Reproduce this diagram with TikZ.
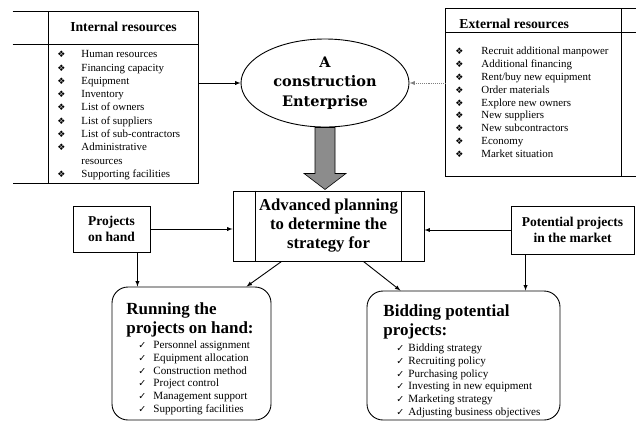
\documentclass[tikz,border=0pt]{standalone}
\usepackage{fontspec}
\setmainfont{Liberation Serif}
\newfontfamily\symfont{DejaVu Sans}
\newfontfamily\entfont{DejaVu Serif}
\usetikzlibrary{arrows,shapes.geometric,positioning}

\newcommand{\dia}{{\symfont\fontsize{9}{9}\selectfont ❖}}
\newcommand{\tick}{{\symfont\fontsize{9.5}{9.5}\selectfont ✓}}

\tikzset{
  hdr/.style={font=\bfseries\fontsize{13.7}{16}\selectfont, inner sep=0pt},
  listtxt/.style={font=\fontsize{10.9}{12.9}\selectfont, inner sep=0pt, anchor=north west},
  chktxt/.style={font=\fontsize{11.1}{12.8}\selectfont, inner sep=0pt, anchor=north west},
  ttl/.style={font=\bfseries\fontsize{17}{19.5}\selectfont, align=left, inner sep=0pt, anchor=north west},
  srcbox/.style={draw, align=center, inner sep=0pt, font=\bfseries\fontsize{13.5}{16}\selectfont},
  taskbox/.style={draw, rounded corners=16pt, inner sep=0pt},
}

\begin{document}
\begin{tikzpicture}[x=1pt,y=-1pt,line width=0.9pt]
	\useasboundingbox (0,0) rectangle (636,424);
	% internal resources
	\node[minimum width=185pt, minimum height=171pt, inner sep=0pt] (intres) at (105.5,97.5) {};
	\draw (intres.north west) -- (intres.north east) -- (intres.south east) -- (intres.south west);
	\draw ([xshift=36pt]intres.north west) -- ([xshift=36pt]intres.south west);
	\draw ([yshift=-33pt]intres.north west) -- ([yshift=-33pt]intres.north east);
	\node[hdr] (intttl) at (123.5,27) {Internal resources};
	\node[listtxt, font=\fontsize{10.9}{13.3}\selectfont] (intlist) at (57,48) {\begin{tabular}{@{}p{24pt}@{}l@{}}
		\dia & Human resources\\
		\dia & Financing capacity\\
		\dia & Equipment\\
		\dia & Inventory\\
		\dia & List of owners\\
		\dia & List of suppliers\\
		\dia & List of sub-contractors\\
		\dia & Administrative\\
		     & resources\\
		\dia & Supporting facilities
	\end{tabular}};
	% external resources
	\node[minimum width=190pt, minimum height=167pt, inner sep=0pt] (extres) at (541,92.5) {};
	\draw (extres.north east) -- (extres.north west) -- (extres.south west) -- (extres.south east);
	\draw ([xshift=-15pt]extres.north east) -- ([xshift=-15pt]extres.south east);
	\draw ([yshift=-24pt]extres.north west) -- ([yshift=-24pt]extres.north east);
	\node[hdr, anchor=west] (extttl) at (459,24) {External resources};
	\node[listtxt] (extlist) at (455,45) {\begin{tabular}{@{}p{26pt}@{}l@{}}
		\dia & Recruit additional manpower\\
		\dia & Additional financing\\
		\dia & Rent/buy new equipment\\
		\dia & Order materials\\
		\dia & Explore new owners\\
		\dia & New suppliers\\
		\dia & New subcontractors\\
		\dia & Economy\\
		\dia & Market situation
	\end{tabular}};
	% enterprise
	\node[ellipse, draw, minimum width=168pt, minimum height=88pt, inner sep=0pt, align=center,
		font=\entfont\bfseries\fontsize{14.5}{19.5}\selectfont] (ent) at (325,83) {A\\construction\\Enterprise};
	\draw[-latex] (intres.east |- ent.west) -- (ent.west);
	\draw[-latex, densely dotted, gray] (extres.west |- ent.east) -- (ent.east);
	\filldraw[fill=gray!90, line width=0.6pt] ([xshift=-10pt]ent.south) -- ++(20,0) -- ++(0,46) -- ++(11,0)
		-- ++(-21,16) -- ++(-21,-16) -- ++(11,0) -- cycle;
	% planning
	\node[draw, minimum width=191pt, minimum height=70pt, inner sep=0pt, align=center,
		font=\bfseries\fontsize{16.7}{19}\selectfont] (plan) at (328.5,226) {Advanced planning\\to determine the\\strategy for};
	\draw ([xshift=23pt]plan.north west) -- ([xshift=23pt]plan.south west);
	\draw ([xshift=-23pt]plan.north east) -- ([xshift=-23pt]plan.south east);
	\node[srcbox, minimum width=77pt, minimum height=46pt] (onhand) at (111.5,229) {Projects\\on hand};
	\node[srcbox, minimum width=123pt, minimum height=48pt] (market) at (572.5,230) {Potential projects\\in the market};
	% running / bidding
	\node[taskbox, minimum width=159pt, minimum height=133pt] (running) at (191.5,353.5) {};
	\node[taskbox, minimum width=193pt, minimum height=129pt] (bidding) at (463.5,355.5) {};
	\node[ttl] (runttl) at (126,302) {Running the\\projects on hand:};
	\node[chktxt] (runlist) at (138,339) {\begin{tabular}{@{}p{15pt}@{}l@{}}
		\tick & Personnel assignment\\
		\tick & Equipment allocation\\
		\tick & Construction method\\
		\tick & Project control\\
		\tick & Management support\\
		\tick & Supporting facilities
	\end{tabular}};
	\node[ttl] (bidttl) at (383,304) {Bidding potential\\projects:};
	\node[chktxt] (bidlist) at (396,342) {\begin{tabular}{@{}p{12pt}@{}l@{}}
		\tick & Bidding strategy\\
		\tick & Recruiting policy\\
		\tick & Purchasing policy\\
		\tick & Investing in new equipment\\
		\tick & Marketing strategy\\
		\tick & Adjusting business objectives
	\end{tabular}};
	% connectors
	\draw[-latex] (onhand.east) -- (onhand.east -| plan.west);
	\draw[-latex] (market.west) -- (market.west -| plan.east);
	\draw[-latex] ([xshift=-13pt]onhand.south east) -- ([xshift=-13pt]onhand.south east |- running.north);
	\draw[-latex] ([xshift=15pt]market.south west) -- ([xshift=15pt]market.south west |- bidding.north);
	\draw[-latex] ([xshift=49pt]plan.south west) -- ([xshift=55pt]running.north);
	\draw[-latex] ([xshift=-61pt]plan.south east) -- ([xshift=-63pt]bidding.north);
\end{tikzpicture}
\end{document}
